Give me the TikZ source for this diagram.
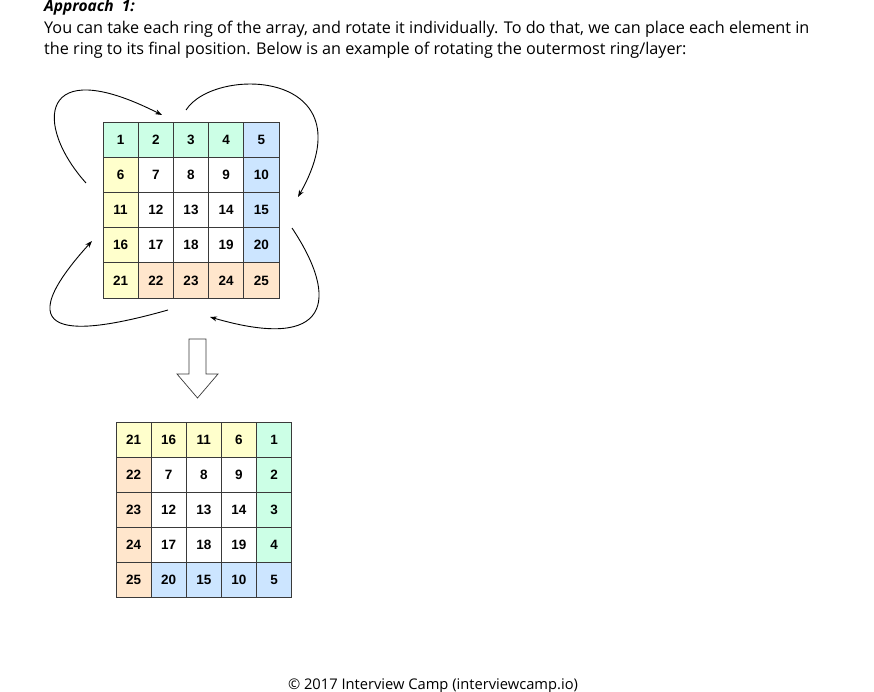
\documentclass[tikz,border=0pt]{standalone}
\usepackage{fontspec}
\setmainfont{Open Sans}
\newfontfamily\numfont{Liberation Sans}
\usetikzlibrary{arrows.meta}
\definecolor{cG}{HTML}{CCFFE6}
\definecolor{cY}{HTML}{FFFFCC}
\definecolor{cB}{HTML}{CCE5FF}
\definecolor{cO}{HTML}{FFE6CC}
\definecolor{cW}{HTML}{FFFFFF}
\definecolor{gridc}{HTML}{3A3A3A}
\tikzset{
  cellbox/.style={draw=gridc, line width=0.7pt, inner sep=0pt, font=\numfont\bfseries\fontsize{13.5}{13.5}\selectfont},
  curvearrow/.style={line width=0.9pt, -{Stealth[length=7pt,width=5pt]}},
  bodytext/.style={anchor=base west, inner sep=0pt, font=\fontsize{16.2}{19}\selectfont}
}
\begin{document}
\begin{tikzpicture}[x=1pt,y=-1pt]
\useasboundingbox (0,0) rectangle (874,692);
% header text
\node[bodytext, font=\fontsize{15.5}{19}\selectfont\bfseries\itshape] (title) at (44,11.5) {Approach\ \ 1:};
\node[bodytext] (line1) at (44,34) {You can take each ring of the array, and rotate it individually. To do that, we can place each element in};
\node[bodytext] (line2) at (44,55) {the ring to its final position. Below is an example of rotating the outermost ring/layer:};
% grid 1
\foreach \v/\c [count=\i from 0] in {1/G,2/G,3/G,4/G,5/B,6/Y,7/W,8/W,9/W,10/B,11/Y,12/W,13/W,14/W,15/B,16/Y,17/W,18/W,19/W,20/B,21/Y,22/O,23/O,24/O,25/O}{
  \pgfmathtruncatemacro{\r}{int(\i/5)}
  \pgfmathtruncatemacro{\k}{mod(\i,5)}
  \node[cellbox, fill=c\c, minimum size=35.2pt] (a\v) at ({103+17.6+35.2*\k},{122+17.6+35.2*\r}) {\v};
}
% grid 2
\foreach \v/\c [count=\i from 0] in {21/Y,16/Y,11/Y,6/Y,1/G,22/O,7/W,8/W,9/W,2/G,23/O,12/W,13/W,14/W,3/G,24/O,17/W,18/W,19/W,4/G,25/O,20/B,15/B,10/B,5/B}{
  \pgfmathtruncatemacro{\r}{int(\i/5)}
  \pgfmathtruncatemacro{\k}{mod(\i,5)}
  \node[cellbox, fill=c\c, minimum size=35.2pt] (b\v) at ({116+17.6+35.1*\k},{422+17.6+35.1*\r}) {\v};
}
% curved arrows
\coordinate (p1s) at (86,183);
\coordinate (p1e) at (162,115);
\coordinate (p2s) at (186,110);
\coordinate (p2e) at (298,197);
\coordinate (p3s) at (292,228);
\coordinate (p3e) at (210,317);
\coordinate (p4s) at (168,310);
\coordinate (p4e) at (92,241);
\draw[curvearrow] (p1s) .. controls (34,125) and (38,52) .. (p1e);
\draw[curvearrow] (p2s) .. controls (215,65) and (370,70) .. (p2e);
\draw[curvearrow] (p3s) .. controls (340,300) and (330,352) .. (p3e);
\draw[curvearrow] (p4s) .. controls (90,332) and (-5,348) .. (p4e);
% block arrow
\draw[line width=0.7pt, draw=gridc, fill=white] (189,339) -- (206,339) -- (206,374) -- (218,374) -- (197.5,398) -- (177,374) -- (189,374) -- cycle;
% footer
\node[anchor=base, inner sep=0pt, font=\fontsize{14.7}{17}\selectfont] (footer) at (433,689) {© 2017 Interview Camp (interviewcamp.io)};
\end{tikzpicture}
\end{document}
